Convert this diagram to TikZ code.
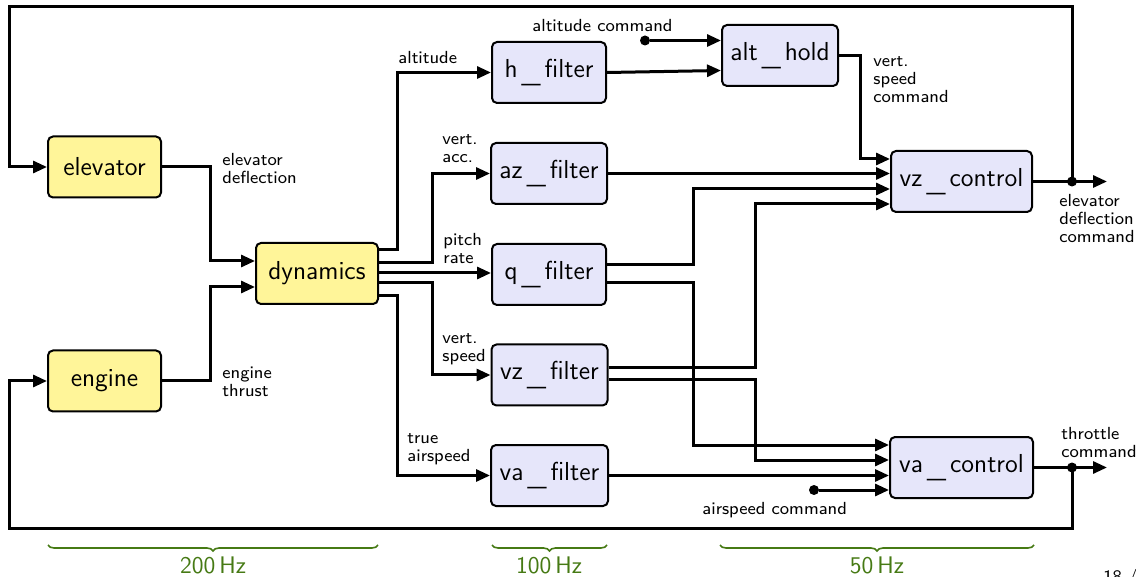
\documentclass[tikz,border=0pt]{standalone}
\usepackage{fontspec}
\usepackage{graphicx}
\newfontfamily\labelfam{lmsans8-regular.otf}
\usetikzlibrary{arrows.meta,decorations.pathreplacing,calc}
\definecolor{boxyellow}{RGB}{255,245,153}
\definecolor{boxblue}{RGB}{230,230,250}
\definecolor{hzgreen}{RGB}{70,122,20}
\newcommand\myus{\kern0.15em\raisebox{-0.2em}{\scalebox{1.15}[0.8]{\_}}\kern0.15em}
\begin{document}
\begin{tikzpicture}[x=0.5pt,y=-0.5pt,
  blk/.style={draw=black, line width=1pt, rounded corners=2.5pt, minimum height=30.5pt, inner sep=0pt, font=\fontsize{13}{15}\selectfont\sffamily},
  plant/.style={blk, fill=boxyellow},
  ctrl/.style={blk, fill=boxblue},
  wire/.style={line width=1.5pt, -{Triangle[length=7pt,width=6pt]}},
  lbl/.style={font=\fontsize{8.75}{9}\selectfont\labelfam, align=left, inner sep=0pt, anchor=north west, text=black},
  hzbrace/.style={draw=hzgreen, line width=0.8pt, decorate, decoration={brace, mirror, amplitude=3pt}},
  hzlbl/.style={text=hzgreen, font=\fontsize{12}{14}\selectfont\sffamily, inner sep=0pt, anchor=north},
  dot/.style={circle, fill=black, inner sep=0pt, minimum size=5pt}
]
\useasboundingbox (0,0) rectangle (1136,577);
\fill[white] (0,0) rectangle (1136,577);

% blocks
\node[plant, minimum width=56.5pt] (elev) at (104.5,167) {elevator};
\node[plant, minimum width=56.5pt] (eng) at (104.5,381) {engine};
\node[plant, minimum width=61pt] (dyn) at (317,273.5) {dynamics};
\node[ctrl, minimum width=57pt] (hf) at (549,72.5) {h\myus filter};
\node[ctrl, minimum width=58pt] (azf) at (549,173.5) {az\myus filter};
\node[ctrl, minimum width=57pt] (qf) at (549,274.5) {q\myus filter};
\node[ctrl, minimum width=58pt] (vzf) at (549.5,375) {vz\myus filter};
\node[ctrl, minimum width=58.5pt] (vaf) at (549.5,475.5) {va\myus filter};
\node[ctrl, minimum width=58pt] (alt) at (780,55.5) {alt\myus hold};
\node[ctrl, minimum width=70.5pt] (vzc) at (961.5,181.5) {vz\myus control};
\node[ctrl, minimum width=71.5pt] (vac) at (961.5,467.5) {va\myus control};

% port coordinates
\coordinate (dynin1) at ($(dyn.west)+(0,-12.5)$);
\coordinate (dynin2) at ($(dyn.west)+(0,13.5)$);
\coordinate (dy1) at ($(dyn.east)+(0,-23.5)$);
\coordinate (dy2) at ($(dyn.east)+(0,-10.5)$);
\coordinate (dy3) at ($(dyn.east)+(0,-0.5)$);
\coordinate (dy4) at ($(dyn.east)+(0,9.5)$);
\coordinate (dy5) at ($(dyn.east)+(0,22.5)$);
\coordinate (altin1) at ($(alt.west)+(0,-15)$);
\coordinate (altin2) at ($(alt.west)+(0,15)$);
\coordinate (vzin1) at ($(vzc.west)+(0,-22.5)$);
\coordinate (vzin2) at ($(vzc.west)+(0,-7.5)$);
\coordinate (vzin3) at ($(vzc.west)+(0,7.5)$);
\coordinate (vzin4) at ($(vzc.west)+(0,22.5)$);
\coordinate (vain1) at ($(vac.west)+(0,-22.5)$);
\coordinate (vain2) at ($(vac.west)+(0,-7.5)$);
\coordinate (vain3) at ($(vac.west)+(0,7.5)$);
\coordinate (vain4) at ($(vac.west)+(0,22.5)$);
\coordinate (qfo1) at ($(qf.east)+(0,-9.5)$);
\coordinate (qfo2) at ($(qf.east)+(0,8.5)$);
\coordinate (vzfo1) at ($(vzf.east)+(0,-7)$);
\coordinate (vzfo2) at ($(vzf.east)+(0,5)$);
\coordinate (j1) at (1072,181.5);
\coordinate (j2) at (1072,467.5);
\coordinate (o1) at (1107,181.5);
\coordinate (o2) at (1107,467.5);
\coordinate (tr) at (1072,7);
\coordinate (tl) at (9,7);
\coordinate (br) at (1072,528);
\coordinate (bl) at (9,528);

% plant to dynamics
\draw[wire] (elev.east) -- (210,167) |- (dynin1);
\draw[wire] (eng.east) -- (210,381) |- (dynin2);

% dynamics to filters
\draw[wire] (dy1) -- (397,250) |- (hf.west);
\draw[wire] (dy2) -- (432,263) |- (azf.west);
\draw[wire] (dy3) -- (qf.west |- dy3);
\draw[wire] (dy4) -- (432,283) |- (vzf.west);
\draw[wire] (dy5) -- (397,296) |- (vaf.west);

% altitude loop
\node[dot] (acmd) at (645,40.5) {};
\draw[wire] (acmd) -- (altin1);
\draw[wire] (hf.east) -- (altin2);
\draw[wire] (alt.east) -- (860,55.5) |- (vzin1);

% to vz_control
\draw[wire] (azf.east) -- (azf.east -| vzc.west);
\draw[wire] (qfo1) -- (693,265) |- (vzin3);
\draw[wire] (vzfo1) -- (755,368) |- (vzin4);

% to va_control
\draw[wire] (qfo2) -- (693,283) |- (vain1);
\draw[wire] (vzfo2) -- (755,380) |- (vain2);
\draw[wire] (vaf.east) -- (vaf.east -| vac.west);
\node[dot] (scmd) at (814,490) {};
\draw[wire] (scmd) -- (vain4);

% outputs and feedback
\draw[wire] (vzc.east) -- (o1);
\draw[wire] (vac.east) -- (o2);
\draw[wire] (j1) -- (tr) -- (tl) |- (elev.west);
\draw[wire] (j2) -- (br) -- (bl) |- (eng.west);
\node[dot] (d1) at (j1) {};
\node[dot] (d2) at (j2) {};

% labels
\node[lbl] (l1) at (222,153) {elevator\\deflection};
\node[lbl] (l2) at (222,367) {engine\\thrust};
\node[lbl] (l3) at (398,51) {altitude};
\node[lbl] (l4) at (442,134) {vert.\\acc.};
\node[lbl] (l5) at (443,233) {pitch\\rate};
\node[lbl] (l6) at (442,333) {vert.\\speed};
\node[lbl] (l7) at (407,433) {true\\airspeed};
\node[lbl] (l8) at (532,19) {altitude command};
\node[lbl] (l9) at (873,56) {vert.\\speed\\command};
\node[lbl] (l10) at (1059,194) {elevator\\deflection\\command};
\node[lbl] (l11) at (1061,427) {throttle\\command};
\node[lbl] (l12) at (702,502) {airspeed command};

% rate braces
\coordinate (b1a) at (48,545); \coordinate (b1b) at (378,545);
\coordinate (b2a) at (492,545); \coordinate (b2b) at (607,545);
\coordinate (b3a) at (720,545); \coordinate (b3b) at (1034,545);
\draw[hzbrace] (b1a) -- (b1b);
\draw[hzbrace] (b2a) -- (b2b);
\draw[hzbrace] (b3a) -- (b3b);
\node[hzlbl] (h1) at (213,556) {200\,Hz};
\node[hzlbl] (h2) at (549,556) {100\,Hz};
\node[hzlbl] (h3) at (877,556) {50\,Hz};
\node[lbl] (pg) at (1103,569) {18 /};
\end{tikzpicture}
\end{document}
